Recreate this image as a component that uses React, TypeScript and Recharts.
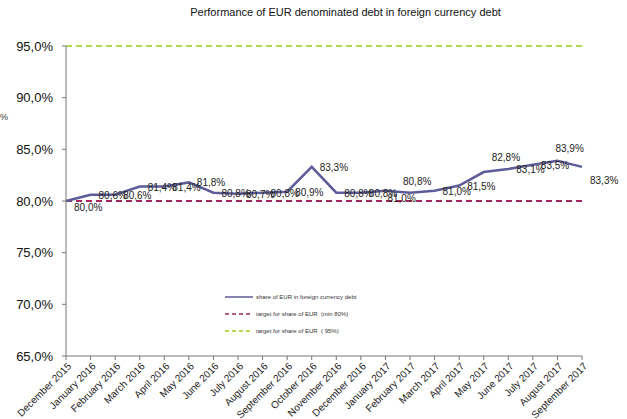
import { LineChart, Line, XAxis, YAxis, LabelList } from 'recharts';

const months = [
  'December 2015', 'January 2016', 'February 2016', 'March 2016', 'April 2016', 'May 2016',
  'June 2016', 'July 2016', 'August 2016', 'September 2016', 'October 2016', 'November 2016',
  'December 2016', 'January 2017', 'February 2017', 'March 2017', 'April 2017', 'May 2017',
  'June 2017', 'July 2017', 'August 2017', 'September 2017',
];

const shareEur = [
  80.0, 80.6, 80.6, 81.4, 81.4, 81.8, 80.8, 80.7, 80.8, 80.9, 83.3,
  80.8, 80.8, 81.0, 80.8, 81.0, 81.5, 82.8, 83.1, 83.5, 83.9, 83.3,
];

const targetMin = months.map(() => 80);
const targetMax = months.map(() => 95);

const yTicks = [65, 70, 75, 80, 85, 90, 95];

const data = months.map((m, i) => ({
  month: m,
  share: shareEur[i],
  min: targetMin[i],
  max: targetMax[i],
}));

const fmt = (v: number) => `${v.toFixed(1).replace('.', ',')}%`;

const FONT = '"Liberation Sans", Arial, sans-serif';

const MonthTick = (props: any) => {
  const { x, y, payload } = props;
  return (
    <g transform={`translate(${x + 3},${y + 2})`}>
      <text
        transform="rotate(-45)"
        textAnchor="end"
        fontSize={10}
        fill="#222"
        fontFamily={FONT}
        dy={4}
      >
        {payload.value}
      </text>
    </g>
  );
};

// a few labels sit above/below the line in the original
const labelShift: Record<number, [number, number]> = {
  0: [8, 10],
  13: [2, 11],
  14: [-7, -8],
  17: [8, -11],
  20: [-2, -9],
  21: [8, 17],
};

const PointLabel = (props: any) => {
  const { x, y, value, index } = props;
  const [dx, dy] = labelShift[index] ?? [8, 4];
  return (
    <text x={x + dx} y={y + dy} fontSize={10} fill="#222" fontFamily={FONT}>
      {fmt(value)}
    </text>
  );
};

const legendItems = [
  { label: 'share of EUR in foreign currency debt', color: '#5E5C98', dash: undefined, w: 1.5 },
  { label: 'target for share of EUR  (min 80%)', color: '#A3275E', dash: '4 3', w: 1.5 },
  { label: 'target for share of EUR  ( 95%)', color: '#9ACD1A', dash: '4 3', w: 1.5 },
];

export default function App() {
  return (
    <div style={{ position: 'absolute', left: 0, top: 0, width: 627, height: 419, background: '#fff' }}>
      <div
        style={{
          position: 'absolute',
          top: 6,
          left: 183,
          width: 325,
          textAlign: 'center',
          fontFamily: FONT,
          fontSize: 11,
          color: '#111',
          whiteSpace: 'nowrap',
        }}
      >
        Performance of EUR denominated debt in foreign currency debt
      </div>
      <div style={{ position: 'absolute', left: 0, top: 112, fontFamily: FONT, fontSize: 9, color: '#333' }}>%</div>
      <LineChart width={627} height={419} data={data} margin={{ top: 46, right: 45, bottom: 3, left: 6 }}>
        <XAxis
          dataKey="month"
          interval={0}
          height={60}
          tick={<MonthTick />}
          tickSize={4}
          axisLine={{ stroke: '#777' }}
          tickLine={{ stroke: '#777' }}
        />
        <YAxis
          domain={[65, 95]}
          ticks={yTicks}
          width={60}
          tickFormatter={fmt}
          tickSize={4}
          tickMargin={9}
          tick={{ fill: '#111', fontSize: 13, fontFamily: FONT }}
          axisLine={{ stroke: '#777' }}
          tickLine={{ stroke: '#777' }}
        />
        <Line
          dataKey="max"
          stroke="#9ACD1A"
          strokeWidth={1.5}
          strokeDasharray="6 4"
          dot={false}
          isAnimationActive={false}
        />
        <Line
          dataKey="min"
          stroke="#A3275E"
          strokeWidth={2}
          strokeDasharray="6 4"
          dot={false}
          isAnimationActive={false}
        />
        <Line
          dataKey="share"
          type="linear"
          stroke="#5E5C98"
          strokeWidth={2.5}
          dot={false}
          isAnimationActive={false}
        >
          <LabelList dataKey="share" content={<PointLabel />} />
        </Line>
      </LineChart>
      <div style={{ position: 'absolute', left: 225, top: 288, fontFamily: FONT, fontSize: 6, color: '#333' }}>
        {legendItems.map((it) => (
          <div key={it.label} style={{ display: 'flex', alignItems: 'center', height: 17, whiteSpace: 'pre' }}>
            <svg width={30} height={4} style={{ marginRight: 1 }}>
              <line x1={0} y1={2} x2={28} y2={2} stroke={it.color} strokeWidth={it.w} strokeDasharray={it.dash} />
            </svg>
            <span>{it.label}</span>
          </div>
        ))}
      </div>
    </div>
  );
}
